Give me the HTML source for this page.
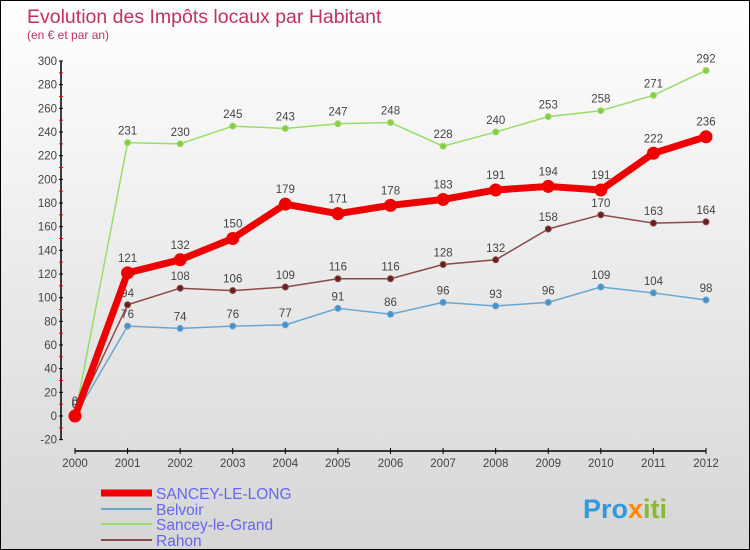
<!DOCTYPE html>
<html><head><meta charset="utf-8"><style>
body{margin:0}
#wrap{width:748px;height:548px;border:1px solid #000;background:linear-gradient(#fff,#d6d6d6);position:relative;font-family:"Liberation Sans",sans-serif;overflow:hidden}
</style></head><body>
<div id="wrap">
<svg id="svg" width="748" height="548"></svg>
</div>
<script>
const years=["2000","2001","2002","2003","2004","2005","2006","2007","2008","2009","2010","2011","2012"];
const yTicks=[-20,0,20,40,60,80,100,120,140,160,180,200,220,240,260,280,300];
const sanceyLong=[0,121,132,150,179,171,178,183,191,194,191,222,236];
const belvoir=[0,76,74,76,77,91,86,96,93,96,109,104,98];
const sanceyGrand=[0,231,230,245,243,247,248,228,240,253,258,271,292];
const rahon=[0,94,108,106,109,116,116,128,132,158,170,163,164];
const NS="http://www.w3.org/2000/svg";
const svg=document.getElementById('svg');
function X(i){return 74+i*(705-74)/12;}
function Y(v){return 415-v*(415-60)/300;}
function mk(t,a,p){const e=document.createElementNS(NS,t);for(const k in a)e.setAttribute(k,a[k]);(p||svg).appendChild(e);return e;}
function txt(x,y,s,a){const e=mk('text',Object.assign({x:x,y:y},a));e.textContent=s;return e;}
let t=txt(26,22,"Evolution des Impôts locaux par Habitant",{fill:"#c03060","font-size":"19.5"});

t=txt(26,38,"(en € et par an)",{fill:"#c03060","font-size":"12"});

let ax=mk('line',{x1:60,y1:Y(300),x2:60,y2:Y(-20),stroke:"#000","stroke-width":1.5});

yTicks.forEach((v,i)=>{
 mk('line',{x1:58,x2:62,y1:Y(v),y2:Y(v),stroke:"#000"});
 if(i<yTicks.length-1)mk('line',{x1:58,x2:62,y1:Y(v+10),y2:Y(v+10),stroke:"#e00"});
 let l=txt(56,Y(v)+4,String(v),{fill:"#444","font-size":"11.5","text-anchor":"end"});
 
});
ax=mk('line',{x1:X(0),y1:450,x2:X(12),y2:450,stroke:"#000","stroke-width":1.5});

years.forEach((y,i)=>{
 mk('line',{x1:X(i),x2:X(i),y1:447,y2:453,stroke:"#000"});
 let l=txt(X(i),466,y,{fill:"#444","font-size":"11.5","text-anchor":"middle"});
 
});
function series(d,color,w,r,name,dot){
 const g=mk('g',{});
 mk('polyline',{points:d.map((v,i)=>X(i)+','+Y(v)).join(' '),fill:"none",stroke:color,"stroke-width":w,"stroke-linejoin":"round"},g);
 d.forEach((v,i)=>{
  const c=mk('circle',{cx:X(i),cy:Y(v),r:r,fill:dot,stroke:color,"stroke-width":1},g);
  
  const l=txt(X(i),Y(v)-8-(r>4?3:0),String(v),{fill:"#444","font-size":"11.5","text-anchor":"middle"},g);
  
 });
}
series(sanceyGrand,"#99dd66",1.5,3,"sancey-le-grand-line","#88cc44");
series(belvoir,"#6aa6d0",1.5,3,"belvoir-line","#4a90c8");
series(rahon,"#8b4a4a",1.5,3,"rahon-line","#6a2020");
series(sanceyLong,"#ee0000",7,6,"sancey-le-long-line","#ee0000");
const lg=mk('g',{});
const leg=[["SANCEY-LE-LONG","#ee0000",7,492],["Belvoir","#6aa6d0",2,508],["Sancey-le-Grand","#99dd66",2,523],["Rahon","#8b4a4a",2,539]];
leg.forEach(e=>{
 const it=mk('g',{},lg);
 mk('line',{x1:100,x2:151,y1:e[3],y2:e[3],stroke:e[1],"stroke-width":e[2]},it);
 txt(155,e[3]+6,e[0],{fill:"#6666ee","font-size":"15.5"},it);
});
const lo=txt(582,517,"",{"font-size":"27","font-weight":"bold"});

[["Pro","#3399dd"],["x","#ff8800"],["iti","#88bb33"]].forEach(p=>{const s=mk('tspan',{fill:p[1]},lo);s.textContent=p[0];});
</script>
</body></html>
